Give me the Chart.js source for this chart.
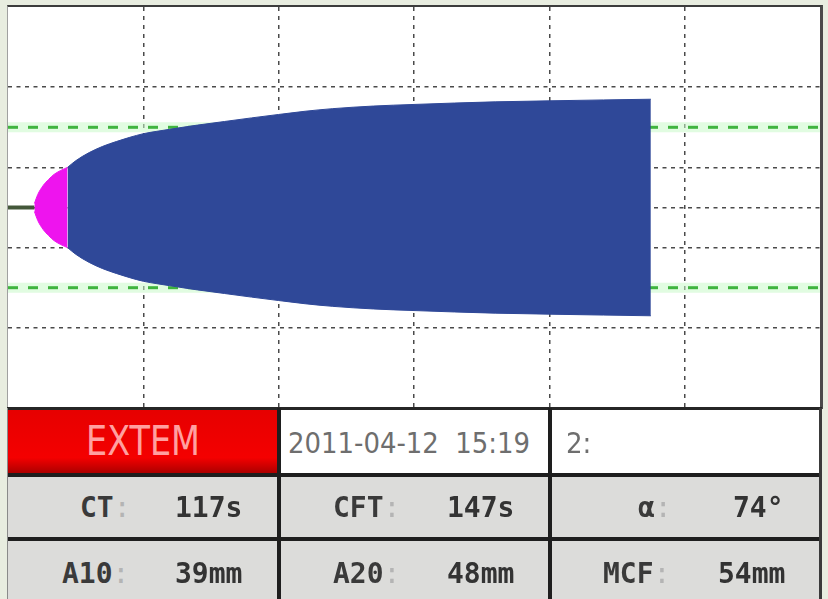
<!DOCTYPE html>
<html>
<head>
<meta charset="utf-8">
<script src="https://cdn.jsdelivr.net/npm/chart.js@4.4.1/dist/chart.umd.min.js"></script>
<style>
  html, body { margin: 0; padding: 0; }
  body { width: 828px; height: 599px; background: #e8ede0; position: relative; overflow: hidden; }
  #plot { position: absolute; left: 8px; top: 7px; width: 812px; height: 401px; background: #fff; }
  #frame { position: absolute; left: 7px; top: 5px; width: 812px; height: 402px;
           border-top: 2px solid #3c3c3c; border-right: 3px solid #4a4a4a; border-left: 1px solid #a0a0a0;
           pointer-events: none; }
  .box { position: absolute; }
  .t { position: absolute; white-space: pre; transform-origin: 0 50%; }
</style>
</head>
<body>
<div id="plot"><canvas id="rotem" width="812" height="401"></canvas></div>
<div id="frame"></div>
<script>
// Test result parameters (EXTEM)
const CT_SEC = 117;
const CFT_SEC = 147;
const ALPHA_DEG = 74;
const A10_MM = 39;
const A20_MM = 48;
const MCF_MM = 54;
const TEST_NAME = 'EXTEM';
const RUN_STAMP = '2011-04-12  15:19';
const CHANNEL = '2:';

// Clot formation phase (CT -> CT+CFT): time in minutes, amplitude in mm
const cfPhaseMin = [1.95, 2.2, 2.6, 3.0, 3.4, 3.9, 4.4];
const cfPhaseAmp = [2, 6.5, 11, 14, 16.5, 18.5, 20];

// Clot firmness phase (CT+CFT -> end of run)
const clotMin = [4.4, 5, 6, 7, 8, 9, 10, 11, 11.95, 13, 14, 16, 18, 20, 21.95, 24, 27, 30, 33, 36, 40, 44, 47.5];
const clotAmp = [20, 23.3, 27.4, 30.5, 32.9, 35, 36.8, 38, 39, 40.1, 41.1, 42.9, 44.7, 46.4, 48, 49.3, 50.6, 51.4, 52.1, 52.7, 53.2, 53.65, 54];

// Axis layout: minutes on x, half-amplitude deflection (mm) on y
const timeRangeMin = [0, 60];
const timeGridMin = [10, 20, 30, 40, 50];
const deflectRangeMm = [-50, 50];
const deflectGridMm = [-30, -10, 0, 10, 30];
const refAmpMm = 40;

// Table text
const rowLabels = [['CT', 'CFT', 'α'], ['A10', 'A20', 'MCF']];
const rowValues = [[CT_SEC + 's', CFT_SEC + 's', ALPHA_DEG + '°'], [A10_MM + 'mm', A20_MM + 'mm', MCF_MM + 'mm']];

const BLUE = '#2f4898';
const PINK = '#ee14ee';

const upper = (ts, as) => ts.map((t, i) => ({ x: t, y: as[i] / 2 }));
const lower = (ts, as) => ts.map((t, i) => ({ x: t, y: -as[i] / 2 }));
const flat = (y) => [{ x: timeRangeMin[0], y }, { x: timeRangeMin[1], y }];

const curveStyle = { pointRadius: 0, borderWidth: 1, cubicInterpolationMode: 'monotone', order: 1 };

new Chart(document.getElementById('rotem'), {
  type: 'line',
  data: {
    datasets: [
      { ...curveStyle, data: upper(cfPhaseMin, cfPhaseAmp), borderColor: PINK, backgroundColor: PINK, fill: '+1' },
      { ...curveStyle, data: lower(cfPhaseMin, cfPhaseAmp), borderColor: PINK, backgroundColor: PINK, fill: false },
      { ...curveStyle, data: upper(clotMin, clotAmp), borderColor: BLUE, backgroundColor: BLUE, fill: '+1' },
      { ...curveStyle, data: lower(clotMin, clotAmp), borderColor: BLUE, backgroundColor: BLUE, fill: false },
      { data: [{ x: 0, y: 0 }, { x: CT_SEC / 60, y: 0 }], borderColor: '#44583a', borderWidth: 4, pointRadius: 0, order: 2 },
      { data: flat(refAmpMm / 2), borderColor: '#3fb43f', borderWidth: 3, borderDash: [10, 10], pointRadius: 0, order: 5 },
      { data: flat(-refAmpMm / 2), borderColor: '#3fb43f', borderWidth: 3, borderDash: [10, 10], pointRadius: 0, order: 5 },
      { data: flat(refAmpMm / 2), borderColor: 'rgba(200,250,200,0.55)', borderWidth: 10, pointRadius: 0, order: 6 },
      { data: flat(-refAmpMm / 2), borderColor: 'rgba(200,250,200,0.55)', borderWidth: 10, pointRadius: 0, order: 6 }
    ]
  },
  options: {
    responsive: false,
    animation: false,
    events: [],
    layout: { padding: 0 },
    plugins: { legend: { display: false }, tooltip: { enabled: false } },
    scales: {
      x: {
        type: 'linear', min: timeRangeMin[0], max: timeRangeMin[1],
        afterBuildTicks: (s) => { s.ticks = timeGridMin.map(v => ({ value: v })); },
        ticks: { display: false },
        grid: { color: '#4a4a4a', lineWidth: 1.5, drawTicks: false },
        border: { display: false, dash: [4, 5] }
      },
      y: {
        type: 'linear', min: deflectRangeMm[0], max: deflectRangeMm[1],
        afterBuildTicks: (s) => { s.ticks = deflectGridMm.map(v => ({ value: v })); },
        ticks: { display: false },
        grid: { color: '#4a4a4a', lineWidth: 1.5, drawTicks: false },
        border: { display: false, dash: [4, 4.5] }
      }
    }
  }
});

// ---- results table ----
function box(x, y, w, h, bg) {
  const d = document.createElement('div');
  d.className = 'box';
  d.style.cssText = `left:${x}px;top:${y}px;width:${w}px;height:${h}px;background:${bg};`;
  document.body.appendChild(d);
}
function text(html, x, cy, px, font, color, fitW) {
  const d = document.createElement('div');
  d.className = 't';
  d.innerHTML = html;
  d.style.cssText = `left:${x}px;top:${cy - px * 0.5}px;font:${font};font-size:${px}px;line-height:${px}px;color:${color};`;
  document.body.appendChild(d);
  if (fitW) {
    const k = fitW / d.getBoundingClientRect().width;
    d.style.transform = `scaleX(${k})`;
  }
}

// cells
box(8, 409, 271, 65, 'linear-gradient(#e60000, #f40000 75%, #a80000)');
box(281, 409, 268, 64, '#ffffff');
box(551, 409, 269, 64, '#ffffff');
box(8, 477, 541, 61, '#dcdcda');
box(551, 477, 269, 61, '#dcdcda');
box(8, 541, 541, 58, '#dcdcda');
box(551, 541, 269, 58, '#dcdcda');
// rules
box(7, 407, 815, 3, '#262626');
box(8, 473, 814, 4, '#1e1e1e');
box(8, 537, 814, 4, '#1e1e1e');
box(277, 408, 4, 191, '#1e1e1e');
box(548, 408, 4, 191, '#1e1e1e');
box(819, 408, 3, 191, '#3a3a3a');
box(7, 408, 1, 191, '#8a8a8a');

const condensed = '"DejaVu Sans Condensed", "DejaVu Sans", sans-serif';
text(TEST_NAME, 86, 441, 40, `normal 40px ${condensed}`, '#ffa0a0', 114);
text(RUN_STAMP, 288, 443, 29, `normal 29px ${condensed}`, '#6e6e6e', 242);
text(CHANNEL, 566, 443, 29, `normal 29px ${condensed}`, '#6e6e6e');

const mono = '"DejaVu Sans Mono", monospace';
const labelX = [[80, 333, 638], [62, 333, 603]];
const valueX = [[175, 447, 733], [175, 447, 718]];
const rowCy = [508, 574];
rowLabels.forEach((row, r) => row.forEach((lab, c) => {
  text(`${lab}<span style="color:#b4b4b4;font-weight:normal">:</span>`, labelX[r][c], rowCy[r], 28, `bold 28px ${mono}`, '#3a3a3a');
  text(rowValues[r][c], valueX[r][c], rowCy[r], 28, `bold 28px ${mono}`, '#333333');
}));
</script>
</body>
</html>
